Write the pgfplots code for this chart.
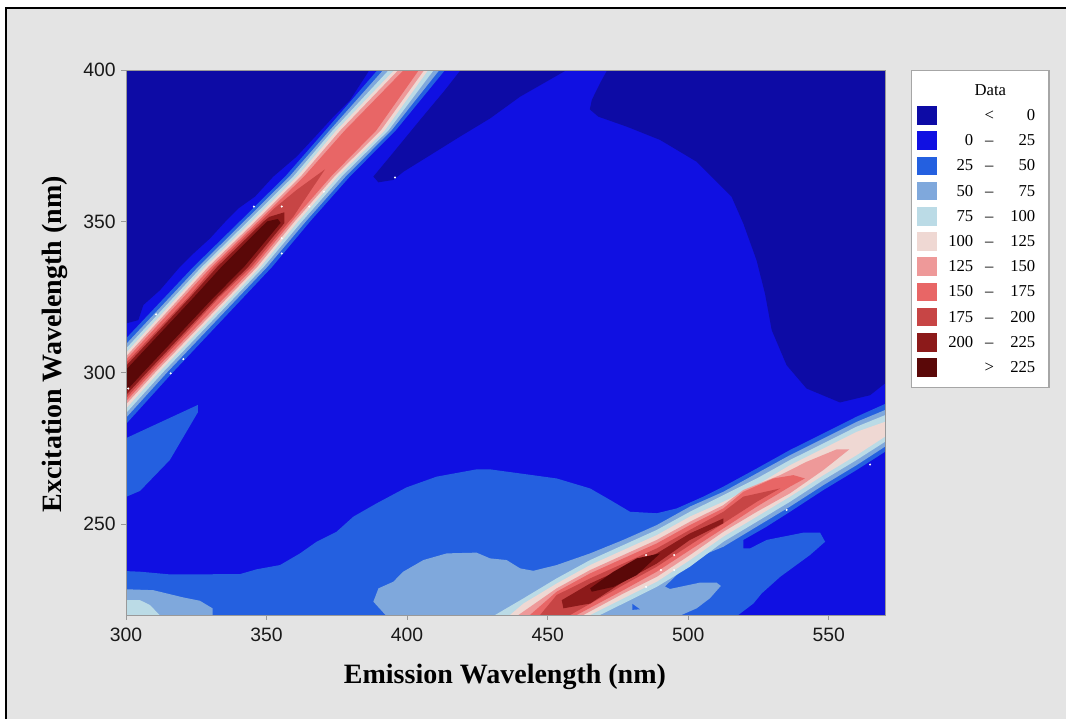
\documentclass[border=0pt]{standalone}
\usepackage{pgfplots}
\pgfplotsset{compat=1.18}
\usepackage{fontspec}
\setmainfont{Liberation Serif}
\newfontfamily\tickfont{Liberation Sans}
\definecolor{bg}{HTML}{E4E4E4}
\definecolor{cn}{HTML}{0D0BA5}
\definecolor{c0}{HTML}{1010E2}
\definecolor{c25}{HTML}{2460E0}
\definecolor{c50}{HTML}{7FA8DC}
\definecolor{c75}{HTML}{BBDBE6}
\definecolor{c100}{HTML}{EFD8D3}
\definecolor{c125}{HTML}{EE9999}
\definecolor{c150}{HTML}{E86666}
\definecolor{c175}{HTML}{C74545}
\definecolor{c200}{HTML}{8C1A1A}
\definecolor{c225}{HTML}{5A0808}
\newcommand{\leg}[3]{\makebox[25.2pt][r]{#1}\makebox[24pt][c]{#2}\makebox[22.5pt][r]{#3}\hspace*{4.3pt}\rule[-3pt]{0pt}{12pt}}
\begin{document}
\begin{tikzpicture}
\useasboundingbox (0,0) rectangle (799.5pt,539.25pt);
\fill[white] (0,0) rectangle (799.5pt,539.25pt);
\fill[bg] (4.5pt,0) rectangle (799.5pt,533.25pt);
\draw[black,line width=0.8pt] (4.5pt,0) -- (4.5pt,533.25pt) -- (799.5pt,533.25pt);
\begin{axis}[
  at={(94.5pt,78pt)},anchor=south west,
  scale only axis,width=569.25pt,height=408.75pt,
  xmin=300,xmax=570,ymin=220,ymax=400,
  axis on top,
  axis background/.style={fill=c0},
  axis line style={gray!80,line width=0.7pt},
  xtick={300,350,400,450,500,550},
  ytick={250,300,350,400},
  xtick pos=bottom,ytick pos=left,
  tick style={gray!80,line width=0.7pt},
  tick align=outside,
  major tick length=3.5pt,
  /pgf/number format/assume math mode=true,
  /pgf/number format/1000 sep={},
  tick label style={font=\tickfont\fontsize{14.5}{16}\selectfont,color=black!90},
  xticklabel style={yshift=-3pt},
  yticklabel style={xshift=-0.8pt},
  xlabel={\textbf{Emission Wavelength (nm)}},
  ylabel={\textbf{Excitation Wavelength (nm)}},
  label style={font=\fontsize{21}{24}\selectfont},
  xlabel style={at={(axis description cs:0.4993,-0.113)},anchor=center},
  ylabel style={at={(axis description cs:-0.0935,0.497)},anchor=center},
  legend image code/.code={\fill[#1,draw=none] (0pt,-7pt) rectangle (15pt,7pt);},
  legend style={at={(1.0343,1)},anchor=north west,draw=gray!70,line width=1pt,fill=white,
    font=\fontsize{12.5}{14}\selectfont,row sep=4.4pt,inner xsep=4pt,inner ysep=7.5pt,
    /tikz/every even column/.append style={column sep=0pt}},
  legend cell align=left,
]
% below zero
\addplot[fill=cn,draw=none,forget plot] coordinates {(299,401)(299,316.3)(300,316.3)(304.4,317.4)(306.2,322.4)(312.1,327.3)(319.2,335)(324,339.4)(329.9,344.4)(335.8,350.4)(340,354.3)(345.9,358.2)(352.4,364.8)(360.7,371.4)(367.8,378.5)(373.8,384.6)(379.7,390.1)(386.2,399.4)(386.6,401)};
\addplot[fill=cn,draw=none,forget plot] coordinates {(418.8,401)(418.8,399.7)(413.5,393.4)(404.6,383.5)(393.9,371.4)(388,364.8)(389.8,362.9)(395.1,363.7)(398.7,366.4)(409.3,372.5)(418.8,378)(429.5,384)(440.2,391.2)(448.5,395.6)(456.2,399.7)(456.2,401)};
\addplot[fill=cn,draw=none,forget plot] coordinates {(471.8,401)(468.6,395.6)(465.7,390.1)(465,387)(468,384.6)(478.1,381.3)(490,376.9)(503,369.7)(515.4,358.2)(519.6,349.3)(524.3,337.2)(527.3,326.2)(529.7,314.1)(535,302.5)(542.1,294.8)(554,290.2)(564.7,292.6)(570,296.5)(571,296.5)(571,401)};
% 25-50 regions
\addplot[fill=c25,draw=none,forget plot] coordinates {(299,278.2)(300,278.4)(325.6,289.4)(325.6,287)(315.6,271.2)(305,261)(300,259)(299,259)};
\addplot[fill=c25,draw=none,forget plot] coordinates {(299,234.5)(300,234.5)(305,234.3)(315.7,233.4)(340.5,233.5)(346.5,235.1)(354.8,236.5)(361.9,240.35)(367.8,244.2)(374.9,247.5)(380.9,252.5)(389.2,256.9)(399.8,262.15)(410.5,265.7)(424.7,268.1)(429.5,268.1)(441.4,266.6)(453.2,265.1)(465.1,261.8)(472.2,258)(479.3,254.1)(488.8,253.6)(495.9,255.2)(505.4,259.1)(512.5,262.4)(524.4,268.4)(536.2,274.5)(548.1,280)(559.9,285.5)(570,289.7)(571,289.7)(571,273.9)(570,273.9)(559.9,267.9)(548.1,261.3)(536.2,254.1)(527.9,249.2)(519.6,244.8)(519.6,242)(522,242)(527.9,244.8)(541,247.2)(546.9,247.2)(548.7,244.2)(543.3,239.8)(532.7,232.6)(526.1,227.1)(523.2,223.8)(517.8,220)(517.8,219)(299,219)};
\addplot[fill=c25,draw=none,forget plot] coordinates {(268,280)(288.5,300)(324,335)(340.5,350)(356.8,365)(370.9,380)(389.5,400)(391,402)(415,402)(413.5,400)(395.9,380)(379.8,365)(365.5,350)(352,335)(316.5,300)(297,280)};
% 50-75 regions
\addplot[fill=c50,draw=none,forget plot] coordinates {(299,228.5)(300,228.5)(309.7,228.2)(320.4,225.8)(326.3,224.7)(330.8,222.2)(330.8,219)(299,219)};
\addplot[fill=c50,draw=none,forget plot] coordinates {(393.3,219)(388,224.4)(389.8,228.8)(395.1,231)(398.6,234.3)(405.8,238.15)(414.1,240.35)(424.7,240.6)(429.5,238.7)(435.4,238.15)(440.2,235.4)(444.9,234.6)(453.2,236.5)(465.1,240.35)(476.9,244.8)(488.8,249.7)(500.6,255.8)(512.5,260.7)(524.4,266.8)(536.2,272.8)(548.1,278.3)(559.9,283.8)(570,287.7)(571,287.7)(571,275.6)(570,275.6)(559.9,269.5)(548.1,262.9)(536.2,255.8)(524.4,249.2)(512.5,242.55)(501.2,238.2)(495.3,232.7)(491.7,229.4)(493.5,228.6)(504.2,230.7)(510.1,230.7)(511.6,229.6)(507.7,225.5)(503,222.2)(497.6,220)(497.6,219)};
\addplot[fill=c25,draw=none,forget plot] coordinates {(480.1,223.7)(482.8,221.9)(480.1,221.7)};
\addplot[fill=c50,draw=none,forget plot] coordinates {(270,280)(290.5,300)(325.7,335)(342,350)(358.3,365)(372.4,380)(391.5,400)(393,402)(413,402)(411.5,400)(394.4,380)(378.3,365)(364,350)(350.3,335)(314.5,300)(295,280)};
% 75-100
\addplot[fill=c75,draw=none,forget plot] coordinates {(299,224.9)(300,224.9)(305,224.9)(308.5,223.3)(313,219)(299,219)};
\addplot[fill=c75,draw=none,forget plot] coordinates {(428,218)(431.3,220)(441.4,225.5)(453.2,232.1)(465.1,238.15)(476.9,243.1)(488.8,248.1)(500.6,254.1)(512.5,259.6)(524.4,265.1)(536.2,271.2)(548.1,276.7)(559.9,282.2)(570,286)(571,286)(571,277.2)(570,277.2)(559.9,271.2)(548.1,264.6)(536.2,257.4)(524.4,250.8)(512.5,244.2)(500.6,235.95)(488.8,229.3)(476.9,223.8)(468.6,220)(465,218)};
\addplot[fill=c75,draw=none,forget plot] coordinates {(271.5,280)(292,300)(327,335)(343.4,350)(359.7,365)(373.5,380)(393.5,400)(395,402)(411,402)(409.5,400)(393.3,380)(376.9,365)(362.6,350)(349,335)(313,300)(293.5,280)};
% 100-125
\addplot[fill=c100,draw=none,forget plot] coordinates {(433,218)(436.6,220)(441.4,223.8)(453.2,230.4)(465.1,236.5)(476.9,241.45)(488.8,246.4)(500.6,252.5)(512.5,257.4)(524.4,262.9)(536.2,269.5)(548.1,275)(559.9,280.5)(570,283.8)(571,283.8)(571,278.9)(570,278.9)(559.9,272.8)(548.1,266.2)(536.2,259.1)(524.4,252.5)(512.5,245.9)(500.6,238.15)(488.8,231)(476.9,225.5)(465.1,220)(462,218)};
\addplot[fill=c100,draw=none,forget plot] coordinates {(273,280)(293.5,300)(328.2,335)(344.8,350)(361.1,365)(374.8,380)(395.5,400)(397,402)(409,402)(407.5,400)(392,380)(375.5,365)(361.2,350)(347.8,335)(311.5,300)(292,280)};
% 125-150
\addplot[fill=c125,draw=none,forget plot] coordinates {(437,218)(439.6,220)(453.2,228.8)(465.1,234.85)(476.9,239.8)(488.8,244.8)(500.6,250.8)(512.5,256.3)(519.6,261.3)(532.7,266.2)(542.1,270.6)(552.8,274.7)(557.3,274.7)(548.1,267.9)(536.2,260.2)(524.4,254.1)(512.5,247.5)(500.6,239.8)(488.8,232.6)(476.9,227.1)(462.7,220)(460,218)};
\addplot[fill=c125,draw=none,forget plot] coordinates {(274.5,280)(294.7,300)(329.3,335)(346,350)(362.3,365)(376.2,380)(396.9,400)(398.4,402)(407.6,402)(406.1,400)(390.6,380)(374.3,365)(360,350)(346.7,335)(310.3,300)(290.5,280)};
% 150-175
\addplot[fill=c150,draw=none,forget plot] coordinates {(441,218)(443.7,220)(453.2,227.7)(465.1,233.75)(476.9,238.7)(488.8,243.65)(500.6,249.7)(512.5,255.2)(519.6,260.7)(530.3,265.1)(537.4,266.2)(541.5,265.1)(536.2,262.4)(524.4,255.8)(512.5,248.6)(500.6,241.45)(488.8,234.3)(476.9,228.2)(460.3,220)(457,218)};
\addplot[fill=c150,draw=none,forget plot] coordinates {(275.5,280)(295.7,300)(330.4,335)(347,350)(363.5,365)(377.8,380)(398.8,400)(400.3,402)(405.7,402)(404.2,400)(389,380)(373.1,365)(359,350)(345.6,335)(309.3,300)(289.5,280)};
% 175-200
\addplot[fill=c175,draw=none,forget plot] coordinates {(445,218)(447.3,220)(453.2,226.6)(465.1,232.1)(476.9,237)(488.8,242)(500.6,248.1)(512.5,254.1)(519.6,259.1)(532.7,261.8)(524.4,257.4)(512.5,250.3)(500.6,243.1)(488.8,235.95)(476.9,229.9)(458,220)(455,218)};
\addplot[fill=c175,draw=none,forget plot] coordinates {(276.5,280)(296.7,300)(322.2,325)(331.4,335)(348,350)(353,354.5)(360.7,360.4)(370.8,367.2)(361.9,354.9)(359.5,351.5)(358,350)(344.6,335)(333.3,325)(308.3,300)(288.5,280)};
% 200-225
\addplot[fill=c200,draw=none,forget plot] coordinates {(512.5,251.9)(500.6,246.95)(488.8,240.35)(476.9,235.4)(465.1,230.4)(455,224.9)(455.6,222.2)(465.1,223.8)(476.9,231)(488.8,237)(500.6,244.8)(512.5,250.3)};
\addplot[fill=c200,draw=none,forget plot] coordinates {(277.5,280)(297.7,300)(322.9,325)(332.5,335)(349,350)(351,351.5)(356.3,353)(356.3,349.4)(343.5,335)(332.6,325)(307.3,300)(287.5,280)};
% above 225
\addplot[fill=c225,draw=none,forget plot] coordinates {(490,240.35)(481.7,238.7)(473.4,234.3)(465.1,228.8)(465.7,227.7)(473.4,229.3)(481.7,233.2)};
\addplot[fill=c225,draw=none,forget plot] coordinates {(278.8,280)(299,300)(324.2,325)(334,335)(350.2,350)(354,350.8)(355,349.5)(342,335)(331.3,325)(306,300)(286.2,280)};
% isolated light points
\addplot[only marks,mark=*,mark size=0.55pt,white,forget plot] coordinates {(395.7,364.5)(345.5,354.9)(355.4,354.9)(365.2,354.9)(370.4,359.8)(355.4,344.4)(355.4,339.4)(310.7,319.3)(320.4,304.5)(315.9,299.8)(300.8,294.8)(485,239.8)(495,239.8)(490.3,234.85)(495,234.85)(485,229.3)(535,254.7)(564.7,269.7)};
% legend
\addlegendimage{empty legend}\addlegendentry{\leg{}{}{}\llap{\makebox[76pt][c]{Data}}}
\addlegendimage{fill=cn}\addlegendentry{\leg{}{<}{0}}
\addlegendimage{fill=c0}\addlegendentry{\leg{0}{--}{25}}
\addlegendimage{fill=c25}\addlegendentry{\leg{25}{--}{50}}
\addlegendimage{fill=c50}\addlegendentry{\leg{50}{--}{75}}
\addlegendimage{fill=c75}\addlegendentry{\leg{75}{--}{100}}
\addlegendimage{fill=c100}\addlegendentry{\leg{100}{--}{125}}
\addlegendimage{fill=c125}\addlegendentry{\leg{125}{--}{150}}
\addlegendimage{fill=c150}\addlegendentry{\leg{150}{--}{175}}
\addlegendimage{fill=c175}\addlegendentry{\leg{175}{--}{200}}
\addlegendimage{fill=c200}\addlegendentry{\leg{200}{--}{225}}
\addlegendimage{fill=c225}\addlegendentry{\leg{}{>}{225}}
\end{axis}
\end{tikzpicture}
\end{document}
